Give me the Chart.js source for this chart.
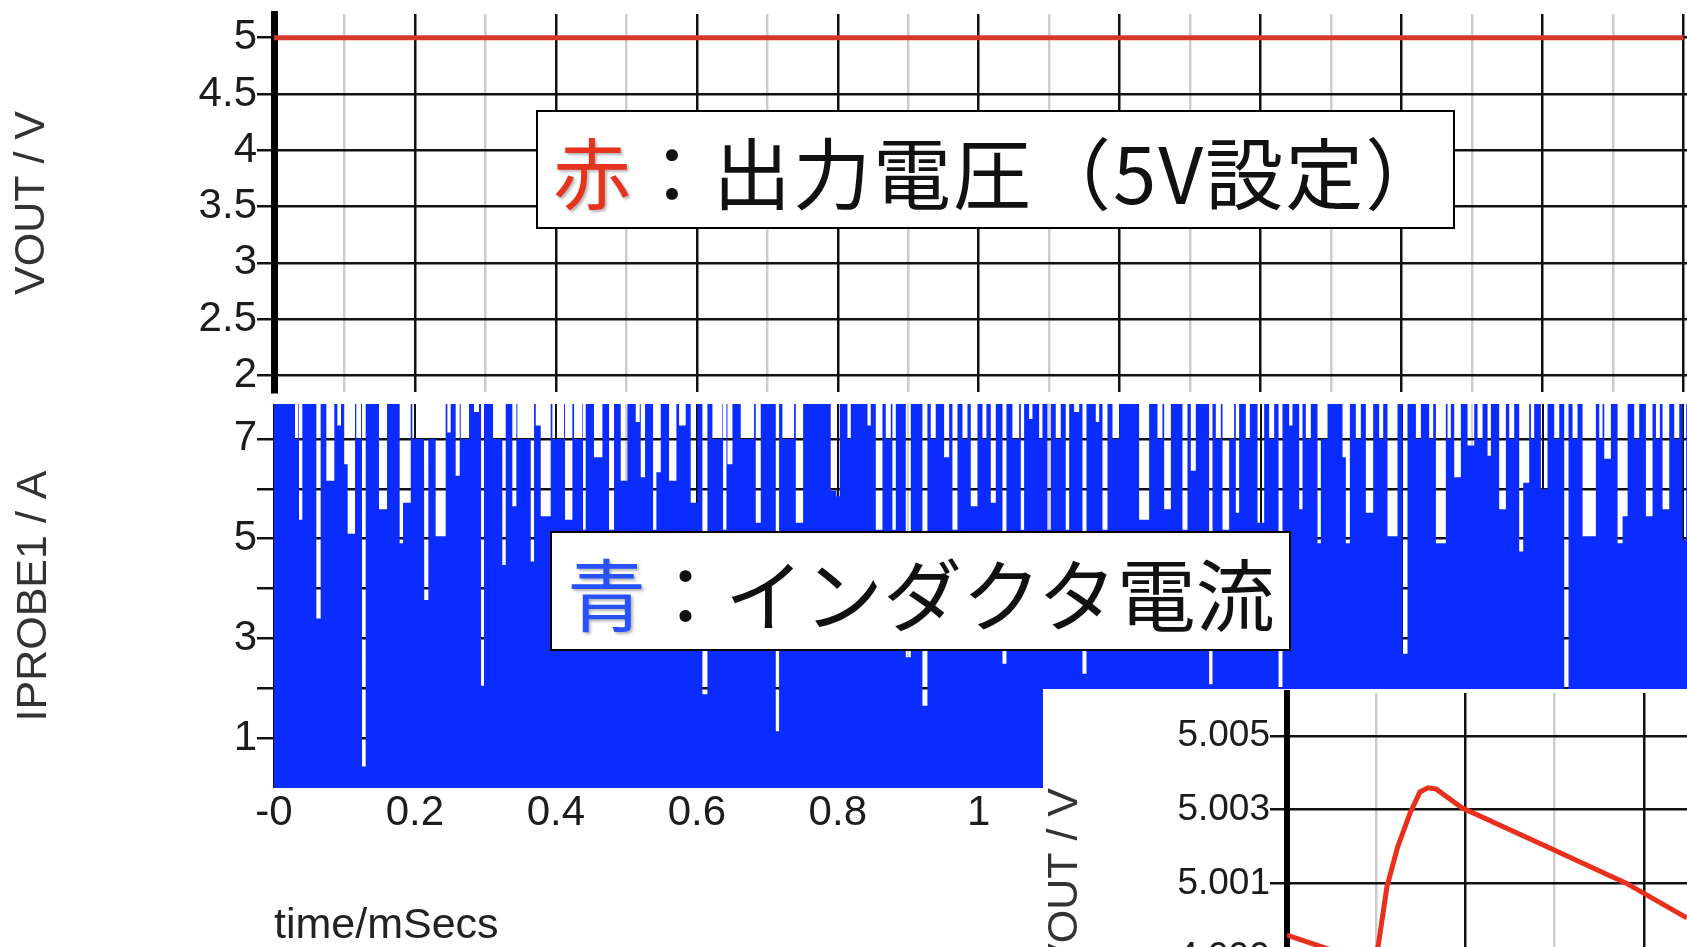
<!DOCTYPE html>
<html>
<head>
<meta charset="utf-8">
<script src="https://cdn.jsdelivr.net/npm/chart.js@4.4.1/dist/chart.umd.min.js"></script>
<style>
  html, body { margin: 0; padding: 0; background: #fff; }
  body { width: 1687px; height: 947px; overflow: hidden; position: relative; }
  canvas { position: absolute; }
  #voutChart { left: 0; top: 0; }
  #iprobeChart { left: 0; top: 395px; }
  #zoomChart { left: 1043px; top: 689px; background: #fff; }
  .note {
    position: absolute; box-sizing: border-box; background: #fff;
    border: 2.5px solid #000; display: flex; align-items: center;
    font-family: 'Noto Sans CJK JP', sans-serif; color: #111;
    white-space: nowrap; line-height: 1;
  }
  #noteVout { left: 536px; top: 110px; width: 919px; height: 119px; font-size: 78px; padding-left: 15px; letter-spacing: 2px; }
  #noteCurrent { left: 550px; top: 531px; width: 741px; height: 120px; font-size: 79px; padding-left: 15px; }
  .red { color: #e5331f; text-shadow: 2px 2px 3px rgba(0,0,0,0.3); }
  .blue { color: #2852ff; text-shadow: 2px 2px 3px rgba(0,0,0,0.3); }
</style>
</head>
<body>
<canvas id="voutChart" width="1687" height="400"></canvas>
<canvas id="iprobeChart" width="1687" height="552"></canvas>
<div class="note" id="noteVout"><span class="red">赤</span>：出力電圧（5V設定）</div>
<div class="note" id="noteCurrent"><span class="blue">青</span>：インダクタ電流</div>
<canvas id="zoomChart" width="700" height="378"></canvas>

<script>
// time axis (ms), shared by both main panels
const timeTicks = [0, 0.1, 0.2, 0.3, 0.4, 0.5, 0.6, 0.7, 0.8, 0.9, 1.0,
                   1.1, 1.2, 1.3, 1.4, 1.5, 1.6, 1.7, 1.8, 1.9, 2.0];
const timeMax = 2.005;

// VOUT
const voutTime = [0, 0.5, 1.0, 1.5, 2.0];
const voutLevel = [5, 5, 5, 5, 5];
const voutTicks = [2, 2.5, 3, 3.5, 4, 4.5, 5];

// IPROBE1: the trace sits at its peak and drops in short dips
const currentPeak = 7.8;
const currentTicks = [1, 2, 3, 4, 5, 6, 7];
// [start ms, end ms, lowest A]
const currentDips = [
  [0.0298, 0.0345, 7.0], [0.0355, 0.0402, 5.38], [0.0601, 0.0662, 3.40], [0.0743, 0.0856, 6.16],
  [0.0899, 0.0951, 7.27], [0.0993, 0.1045, 6.49], [0.1045, 0.1150, 5.10], [0.1168, 0.1235, 7.0],
  [0.1249, 0.1301, 0.43], [0.1490, 0.1604, 5.59], [0.1783, 0.1831, 4.91], [0.1831, 0.1940, 5.72],
  [0.1963, 0.2129, 7.0], [0.2134, 0.2190, 3.77], [0.2190, 0.2294, 7.0], [0.2294, 0.2436, 5.05],
  [0.2460, 0.2507, 7.13], [0.2578, 0.2635, 6.26], [0.2649, 0.2767, 7.0], [0.2838, 0.2909, 7.54],
  [0.2938, 0.2980, 2.05], [0.3108, 0.3240, 7.0], [0.3240, 0.3288, 4.47], [0.3382, 0.3439, 5.65],
  [0.3453, 0.3643, 7.0], [0.3643, 0.3690, 4.54], [0.3714, 0.3785, 7.27], [0.3785, 0.3926, 5.45],
  [0.3950, 0.4116, 7.0], [0.4130, 0.4234, 5.38], [0.4258, 0.4376, 7.0], [0.4385, 0.4423, 5.18],
  [0.4541, 0.4660, 6.63], [0.4754, 0.4825, 5.18], [0.4920, 0.5014, 6.16], [0.5133, 0.5190, 7.34],
  [0.5204, 0.5265, 6.23], [0.5379, 0.5426, 5.18], [0.5426, 0.5488, 6.33], [0.5606, 0.5710, 6.16],
  [0.5748, 0.5842, 7.27], [0.5913, 0.6008, 5.72], [0.6079, 0.6150, 1.88], [0.6221, 0.6363, 7.0],
  [0.6372, 0.6420, 5.18], [0.6434, 0.6505, 6.49], [0.6623, 0.6812, 7.0], [0.6836, 0.6907, 5.32],
  [0.7120, 0.7167, 1.14], [0.7214, 0.7380, 7.0], [0.7404, 0.7508, 5.32], [0.7900, 0.7981, 5.96],
  [0.7981, 0.8028, 5.85], [0.8137, 0.8184, 7.0], [0.8421, 0.8468, 7.27], [0.8539, 0.8634, 5.18],
  [0.8681, 0.8752, 7.0], [0.8775, 0.8823, 5.18], [0.8965, 0.9036, 2.62], [0.9201, 0.9272, 1.65],
  [0.9319, 0.9390, 7.0], [0.9509, 0.9580, 6.63], [0.9627, 0.9698, 5.18], [0.9769, 0.9840, 7.0],
  [0.9887, 0.9982, 5.65], [1.0053, 1.0109, 7.0], [1.0171, 1.0242, 5.72], [1.0337, 1.0393, 2.49],
  [1.0478, 1.0573, 7.0], [1.0597, 1.0644, 5.18], [1.0715, 1.0762, 7.4], [1.0857, 1.0904, 7.0],
  [1.0975, 1.1022, 5.18], [1.1093, 1.1164, 7.0], [1.1235, 1.1283, 5.18], [1.1354, 1.1425, 7.54],
  [1.1472, 1.1529, 2.29], [1.1661, 1.1709, 7.34], [1.1756, 1.1827, 5.18], [1.1898, 1.1992, 7.0],
  [1.2276, 1.2418, 5.38], [1.2536, 1.2607, 7.0], [1.2631, 1.2726, 5.59], [1.2891, 1.2962, 5.18],
  [1.3009, 1.3080, 6.36], [1.3269, 1.3317, 2.08], [1.3364, 1.3435, 7.0], [1.3459, 1.3553, 5.18],
  [1.3553, 1.3624, 7.0], [1.3648, 1.3695, 5.52], [1.3790, 1.3847, 7.0], [1.3956, 1.4050, 5.32],
  [1.4121, 1.4192, 7.0], [1.4254, 1.4310, 2.02], [1.4405, 1.4452, 7.27], [1.4547, 1.4594, 5.59],
  [1.4641, 1.4712, 7.0], [1.4807, 1.4854, 4.91], [1.4854, 1.4949, 7.0], [1.5162, 1.5209, 6.63],
  [1.5209, 1.5266, 4.91], [1.5351, 1.5422, 7.0], [1.5493, 1.5597, 5.52], [1.5682, 1.5739, 7.0],
  [1.5800, 1.5942, 5.05], [1.6013, 1.6084, 2.69], [1.6203, 1.6274, 7.0], [1.6392, 1.6449, 7.0],
  [1.6487, 1.6628, 4.91], [1.6652, 1.6699, 7.0], [1.6747, 1.6841, 6.23], [1.6936, 1.7031, 6.87],
  [1.7078, 1.7149, 7.0], [1.7220, 1.7267, 6.66], [1.7385, 1.7480, 5.59], [1.7527, 1.7598, 7.0],
  [1.7669, 1.7726, 4.74], [1.7726, 1.7811, 6.12], [1.7835, 1.7882, 7.0], [1.7977, 1.8071, 5.99],
  [1.8166, 1.8237, 7.0], [1.8308, 1.8369, 1.98], [1.8426, 1.8497, 7.0], [1.8568, 1.8757, 5.05],
  [1.8805, 1.8852, 7.0], [1.8876, 1.8970, 6.60], [1.9065, 1.9136, 4.91], [1.9136, 1.9207, 5.45],
  [1.9301, 1.9372, 7.0], [1.9467, 1.9561, 5.45], [1.9609, 1.9665, 7.0], [1.9703, 1.9798, 5.59],
  [1.9869, 1.9940, 7.0], [1.9987, 2.0039, 4.98]
];

// zoomed VOUT ripple (inset)
const zoomTime = [0, 0.20, 0.43, 0.51, 0.56, 0.62, 0.69, 0.745, 0.79, 0.835, 0.98, 1.46, 1.90, 2.24];
const zoomVolt = [4.99960, 4.99928, 4.99890, 4.99928, 5.00091, 5.00199, 5.00291, 5.00348,
                  5.00359, 5.00356, 5.00305, 5.00199, 5.00101, 5.00007];
const zoomTimeTicks = [0, 0.5, 1, 1.5, 2, 2.5];
const zoomVoltTicks = [4.997, 4.998, 4.999, 5.000, 5.001, 5.002, 5.003, 5.004, 5.005, 5.006];

const labelFont = { family: 'Liberation Sans', size: 42 };
const titleFont = { family: 'Liberation Sans', size: 43, lineHeight: 1 };
const inkColor = '#1c1c1c';
const isMajor = v => Math.round(v * 10) % 2 === 0;

function buildCurrentTrace() {
  const pts = [{ x: 0, y: currentPeak }];
  currentDips.slice().sort((a, b) => a[0] - b[0]).forEach(d => {
    pts.push({ x: d[0], y: currentPeak }, { x: d[0], y: d[2] },
             { x: d[1], y: d[2] }, { x: d[1], y: currentPeak });
  });
  pts.push({ x: timeMax, y: currentPeak });
  return pts;
}

// fixed axis boxes so the plot areas land where they should; label overhang is ignored
const fixY = w => s => { s.width = w; s.paddingTop = 0; s.paddingBottom = 0; };
const fixX = h => s => { s.height = h; s.paddingLeft = 0; s.paddingRight = 0; };

const base = {
  responsive: false, animation: false, devicePixelRatio: 1,
  plugins: { legend: { display: false }, tooltip: { enabled: false } },
  elements: { point: { radius: 0 }, line: { tension: 0 } }
};

// top panel: VOUT
new Chart(document.getElementById('voutChart'), {
  type: 'line',
  data: { datasets: [{
    data: voutTime.map((t, i) => ({ x: t, y: voutLevel[i] })),
    borderColor: '#d6382e', borderWidth: 5
  }] },
  options: { ...base,
    layout: { padding: { top: 14, bottom: 8, right: 0, left: 0 } },
    scales: {
      x: { type: 'linear', min: 0, max: timeMax,
        afterBuildTicks: s => { s.ticks = timeTicks.map(v => ({ value: v })); },
        afterFit: fixX(0),
        ticks: { display: false },
        grid: { color: c => isMajor(c.tick.value) ? '#111' : '#cdcdcd', lineWidth: 2.5, drawTicks: false },
        border: { display: false } },
      y: { min: 1.853, max: 5.21,
        afterBuildTicks: s => { s.ticks = voutTicks.map(v => ({ value: v })); },
        afterFit: fixY(274),
        ticks: { font: labelFont, color: inkColor, padding: 0, callback: v => String(v) },
        grid: { color: '#111', lineWidth: 2.5, tickLength: 17 },
        border: { display: true, color: '#000', width: 7 },
        title: { display: true, text: 'VOUT / V', font: titleFont, color: '#333', padding: { top: 11, bottom: 0 } } }
    }
  }
});

// lower panel: IPROBE1
new Chart(document.getElementById('iprobeChart'), {
  type: 'line',
  data: { datasets: [{
    data: buildCurrentTrace(),
    borderColor: 'rgba(0,0,0,0)', borderWidth: 0,
    backgroundColor: '#0a2cff', fill: 'origin'
  }] },
  options: { ...base,
    layout: { padding: { top: 9, bottom: 0, right: 0, left: 0 } },
    scales: {
      x: { type: 'linear', min: 0, max: timeMax,
        afterBuildTicks: s => { s.ticks = timeTicks.map(v => ({ value: v })); },
        afterFit: fixX(159),
        ticks: { font: labelFont, color: inkColor, padding: 0, autoSkip: false, maxRotation: 0,
          callback: v => v === 0 ? '-0' : (isMajor(v) ? String(Math.round(v * 10) / 10) : '') },
        grid: { color: c => isMajor(c.tick.value) ? '#111' : '#d4d4d4', lineWidth: 2, drawTicks: false },
        border: { display: false },
        title: { display: true, text: 'time/mSecs', align: 'start', font: titleFont, color: '#222',
          padding: { top: 0, bottom: -1 } } },
      y: { min: 0, max: 7.7,
        afterBuildTicks: s => { s.ticks = currentTicks.map(v => ({ value: v })); },
        afterFit: fixY(274),
        ticks: { font: labelFont, color: inkColor, padding: 0, callback: v => v % 2 ? String(v) : '' },
        grid: { color: '#111', lineWidth: 2.5, tickLength: 17 },
        border: { display: false },
        title: { display: true, text: 'IPROBE1 / A', font: titleFont, color: '#333', padding: { top: 13, bottom: 0 } } }
    }
  }
});

// inset: VOUT ripple close-up
new Chart(document.getElementById('zoomChart'), {
  type: 'line',
  data: { datasets: [{
    data: zoomTime.map((t, i) => ({ x: t, y: zoomVolt[i] })),
    borderColor: '#e8301c', borderWidth: 5
  }] },
  options: { ...base,
    layout: { padding: { top: 4, bottom: 0, right: 0, left: 0 } },
    scales: {
      x: { type: 'linear', min: 0, max: 2.555,
        afterBuildTicks: s => { s.ticks = zoomTimeTicks.map(v => ({ value: v })); },
        afterFit: fixX(0),
        ticks: { display: false },
        grid: { color: c => Number.isInteger(c.tick.value) ? '#111' : '#cdcdcd', lineWidth: 2.5, drawTicks: false },
        border: { display: false } },
      y: { min: 4.99603, max: 5.00616,
        afterBuildTicks: s => { s.ticks = zoomVoltTicks.map(v => ({ value: v })); },
        afterFit: fixY(244),
        ticks: { font: { family: 'Liberation Sans', size: 37 }, color: inkColor, padding: 0,
          callback: v => Math.round(v * 1000) % 2 ? v.toFixed(3) : '' },
        grid: { color: '#111', lineWidth: 2.5, tickLength: 17 },
        border: { display: true, color: '#000', width: 6 },
        title: { display: true, text: 'VOUT / V', font: titleFont, color: '#333', padding: { top: 1, bottom: 0 } } }
    }
  }
});
</script>
</body>
</html>
